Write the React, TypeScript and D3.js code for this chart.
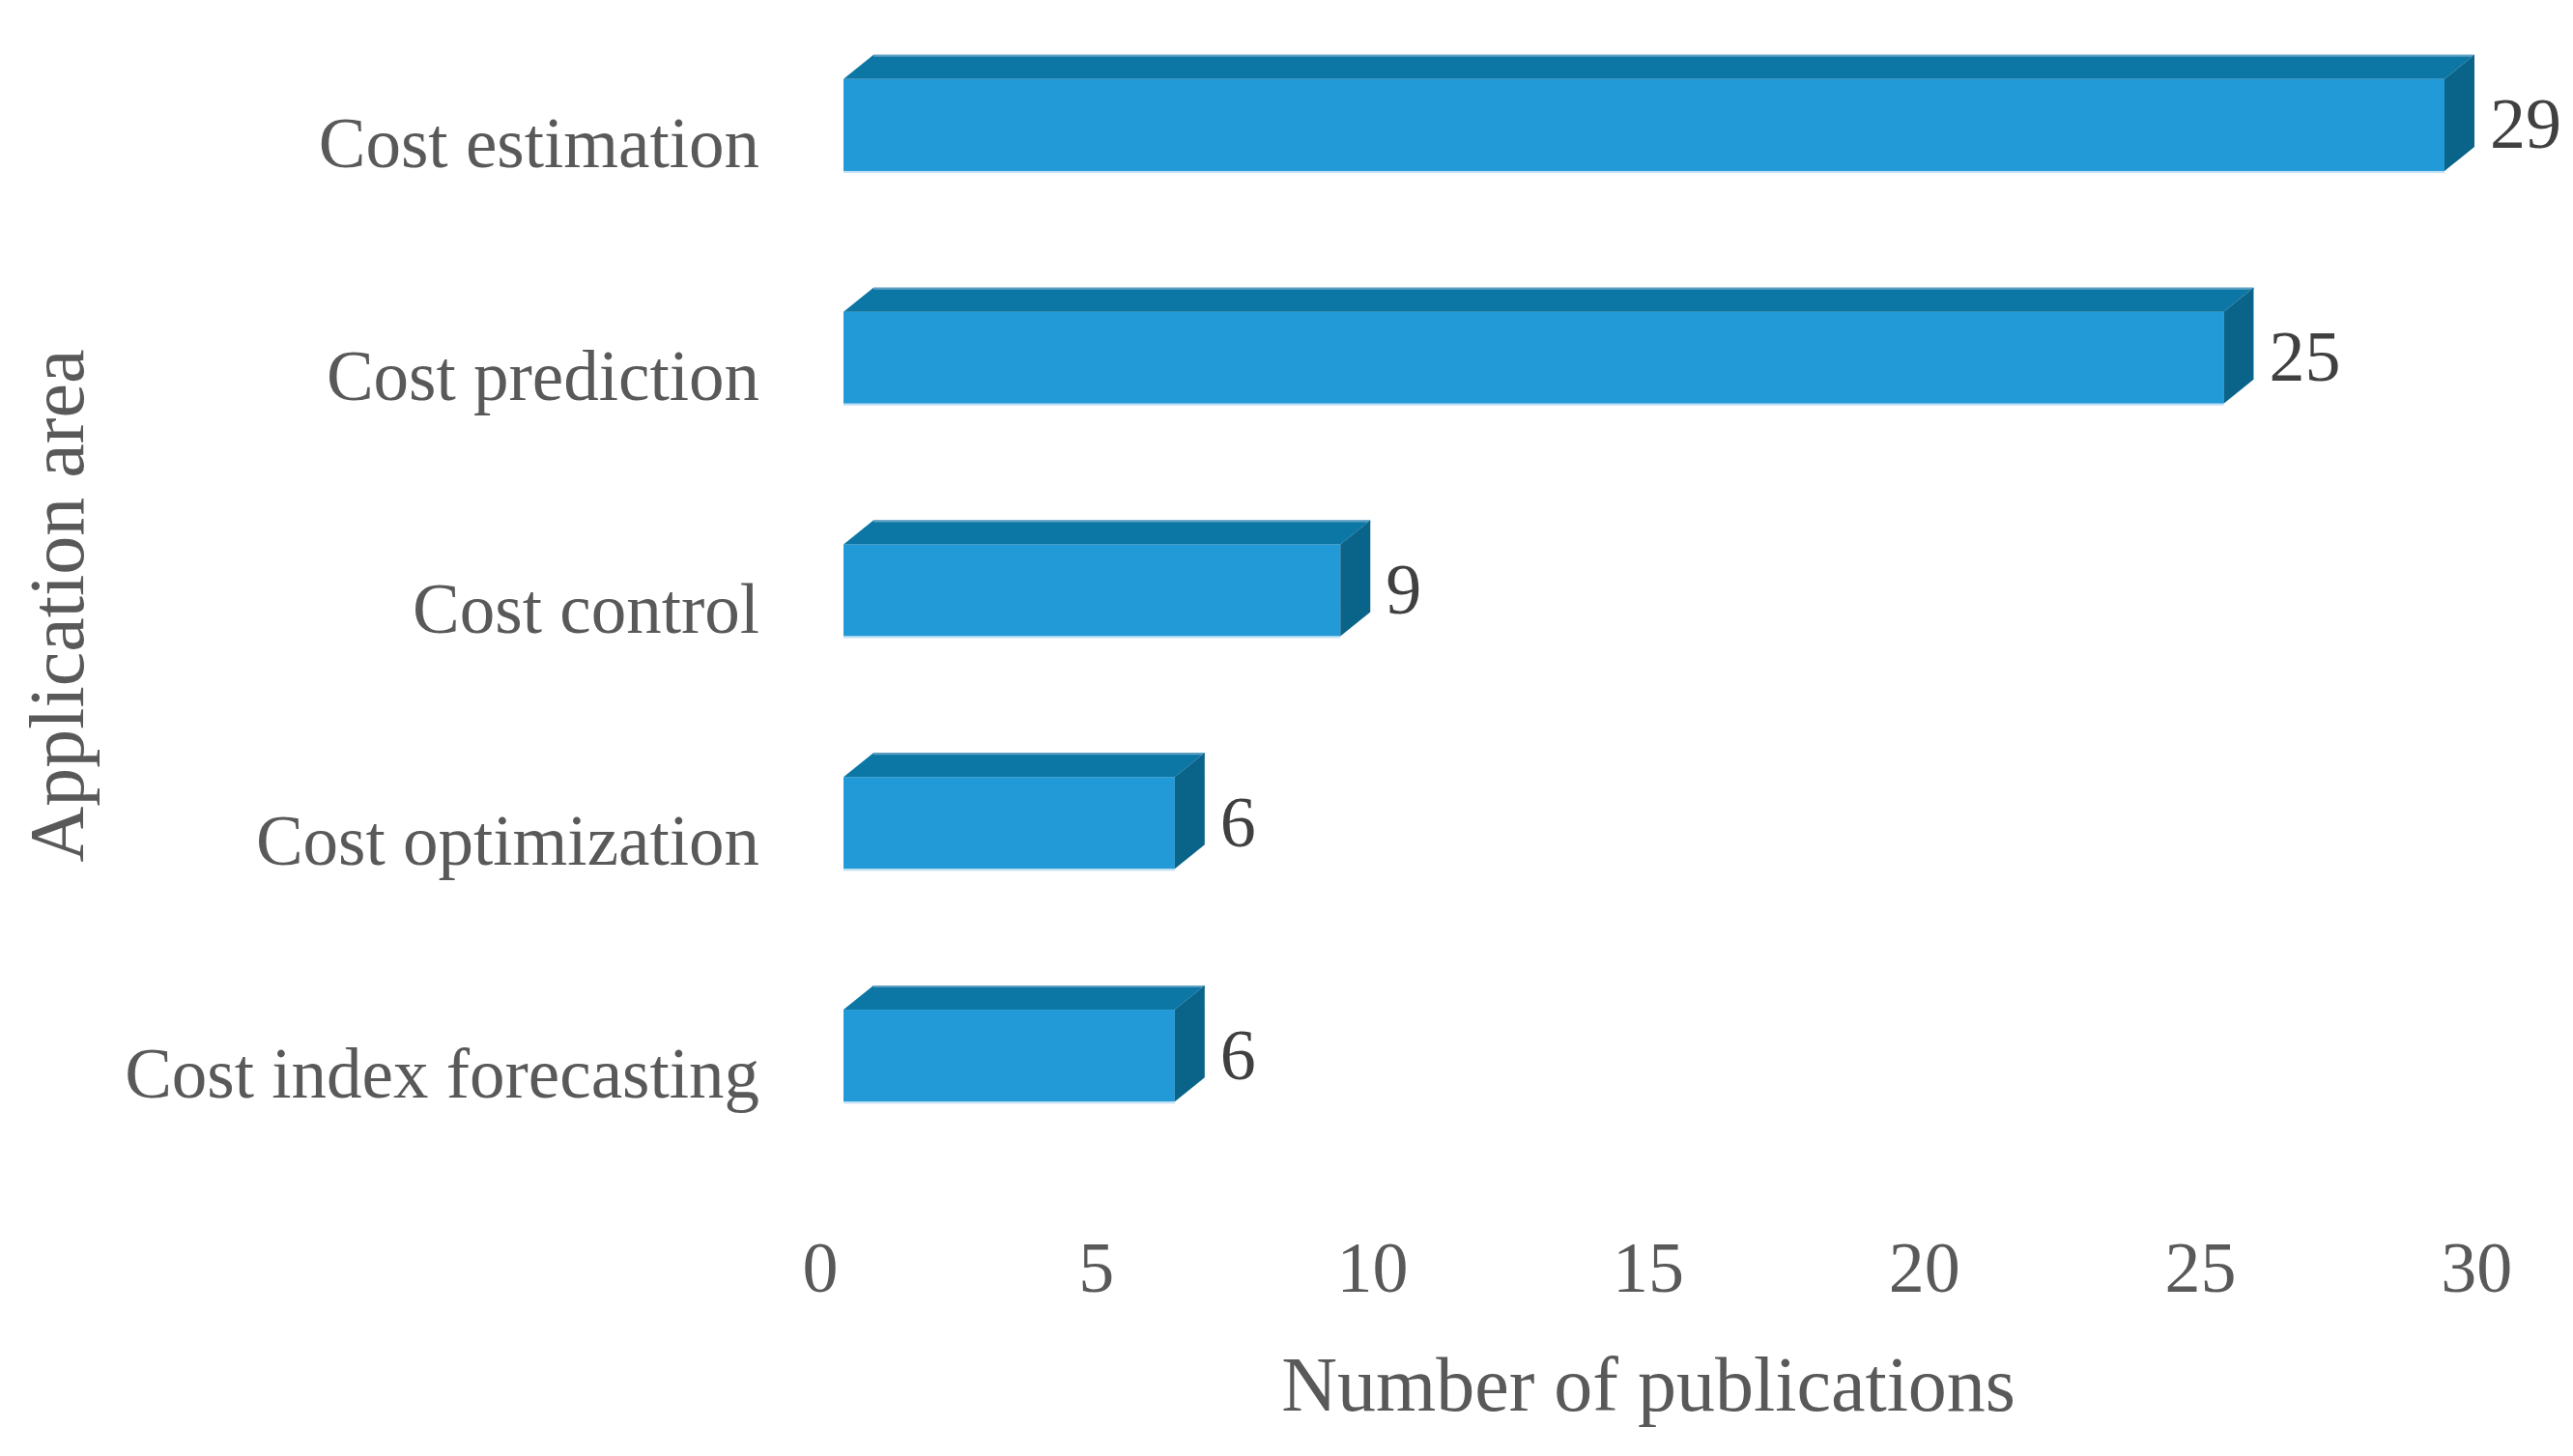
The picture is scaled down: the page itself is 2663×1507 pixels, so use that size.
import React from "react";
import * as d3 from "d3";

const categories = [
  "Cost estimation",
  "Cost prediction",
  "Cost control",
  "Cost optimization",
  "Cost index forecasting",
];
const values = [29, 25, 9, 6, 6];
const xTicks = [0, 5, 10, 15, 20, 25, 30];
const xTitle = "Number of publications";
const yTitle = "Application area";

const W = 2663;
const H = 1507;

export default function App() {
  const x = d3.scaleLinear().domain([0, 29]).range([873, 2530]);
  const y = d3
    .scaleBand<string>()
    .domain(categories)
    .range([9, 1213])
    .paddingInner(0.605)
    .paddingOuter(0.3025);
  const dx = 31;
  const dy = 25;
  const font = "'Liberation Serif', 'Times New Roman', serif";
  const front = "#229AD7";
  const top = "#0C76A5";
  const side = "#0A6389";

  return (
    <svg
      width={W}
      height={H}
      style={{ position: "absolute", left: 0, top: 0, background: "#fff" }}
    >
      {categories.map((c, i) => {
        const y0 = y(c)!;
        const h = y.bandwidth();
        const x0 = x(0);
        const x1 = x(values[i]);
        const y1 = y0 + h;
        return (
          <g key={c}>
            <rect x={x0} y={y0} width={x1 - x0} height={h} fill={front} />
            <line
              x1={x0}
              y1={y1 + 1}
              x2={x1}
              y2={y1 + 1}
              stroke="#BFE0F3"
              strokeWidth={2}
            />
            <polygon
              points={`${x0},${y0} ${x0 + dx},${y0 - dy} ${x1 + dx},${y0 - dy} ${x1},${y0}`}
              fill={top}
            />
            <line
              x1={x0 + dx}
              y1={y0 - dy + 1}
              x2={x1 + dx}
              y2={y0 - dy + 1}
              stroke="#5E9FC2"
              strokeWidth={2}
            />
            <polygon
              points={`${x1},${y0} ${x1 + dx},${y0 - dy} ${x1 + dx},${y1 - dy} ${x1},${y1}`}
              fill={side}
            />
            <text
              x={x1 + dx + 16}
              y={y0 + h / 2 - 1}
              dominantBaseline="central"
              fontFamily={font}
              fontSize={74}
              fill="#404040"
            >
              {values[i]}
            </text>
            <text
              x={786}
              y={y0 + h / 2 + 19}
              textAnchor="end"
              dominantBaseline="central"
              fontFamily={font}
              fontSize={73}
              fill="#595959"
            >
              {c}
            </text>
          </g>
        );
      })}
      {xTicks.map((t) => (
        <text
          key={t}
          x={x(t) - 24}
          y={1337}
          textAnchor="middle"
          fontFamily={font}
          fontSize={74}
          fill="#595959"
        >
          {t}
        </text>
      ))}
      <text
        x={(x(0) + x(30)) / 2 - 24}
        y={1460}
        textAnchor="middle"
        fontFamily={font}
        fontSize={80}
        fill="#595959"
      >
        {xTitle}
      </text>
      <text
        transform={`translate(86, 627) rotate(-90)`}
        textAnchor="middle"
        fontFamily={font}
        fontSize={80}
        fill="#595959"
      >
        {yTitle}
      </text>
    </svg>
  );
}
